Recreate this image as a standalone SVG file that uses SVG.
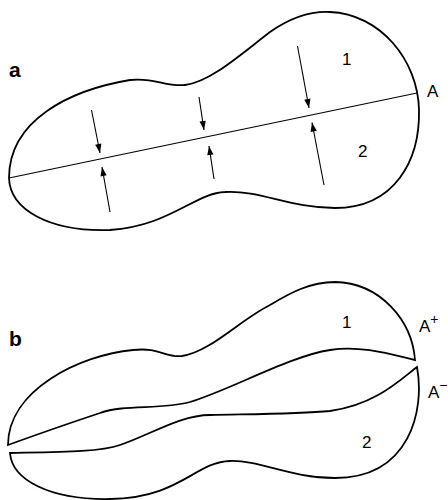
<svg xmlns="http://www.w3.org/2000/svg" width="448" height="500" viewBox="0 0 448 500">
<defs>
<marker id="ah" viewBox="0 0 10 10" refX="10" refY="5" markerWidth="10" markerHeight="9" markerUnits="userSpaceOnUse" orient="auto">
<path d="M0,1.5 L10,5 L0,8.5 Z" fill="#000"/>
</marker>
<style>
.outline{fill:none;stroke:#000;stroke-width:1.8}
.thin{fill:none;stroke:#000;stroke-width:1.1}
.arr{fill:none;stroke:#000;stroke-width:1.1;marker-end:url(#ah)}
.lbl{font-family:"Liberation Sans",Arial,sans-serif;font-size:17px;fill:#000}
.pl{font-family:"Liberation Sans",Arial,sans-serif;font-size:21px;font-weight:bold;fill:#000}
</style>
</defs>
<g id="panel-a">
<g id="body-a">
<path class="outline" d="M9,178 C9,120 70,90 130,80 C155,77 165,87 185,85 C210,82 240,55 270,32 C290,18 310,11 330,12 C380,14 418,60 419,110 C420,160 395,208 335,208 C290,208 260,190 225,192 C195,193 170,226 110,230 C50,232 10,210 9,178 Z"/>
<path class="thin" d="M9,178 L417,93"/>
</g>
<g id="connectors-a">
<path class="arr" d="M91.5,110 L100,153"/>
<path class="arr" d="M110,212 L102,167"/>
<path class="arr" d="M199,97 L204,130"/>
<path class="arr" d="M214,179 L209,146"/>
<path class="arr" d="M297.5,46 L309,108"/>
<path class="arr" d="M324,185 L312,122.5"/>
</g>
<text class="pl" x="9" y="77">a</text>
<text class="lbl" x="342" y="65">1</text>
<text class="lbl" x="358" y="157">2</text>
<text class="lbl" x="427" y="97">A</text>
</g>
<g id="panel-b">
<g id="piece-1">
<path class="outline" d="M8,445 C8,390 80,355 133,350 C160,347 165,358 182,356 C210,352 240,320 270,305 C290,293 310,282 335,282 C380,283 412,320 415,360 C390,354 360,345 330,350 C290,356 230,390 190,402 C160,410 125,404 100,413 C70,423 30,437 8,445 Z"/>
</g>
<g id="piece-2">
<path class="outline" d="M10,453 C60,452 100,452 120,445 C150,435 180,415 210,415 C260,414 300,414 330,411 C375,405 400,380 417,367 C425,410 410,478 335,478 C290,478 260,460 230,461 C195,462 180,498 110,499 C50,500 12,480 10,453 Z"/>
</g>
<text class="pl" x="9" y="346">b</text>
<text class="lbl" x="342" y="328">1</text>
<text class="lbl" x="362" y="448">2</text>
<text class="lbl" x="419" y="332">A<tspan font-size="14" dy="-8">+</tspan></text>
<text class="lbl" x="428" y="398">A<tspan font-size="14" dy="-8">−</tspan></text>
</g>
</svg>
